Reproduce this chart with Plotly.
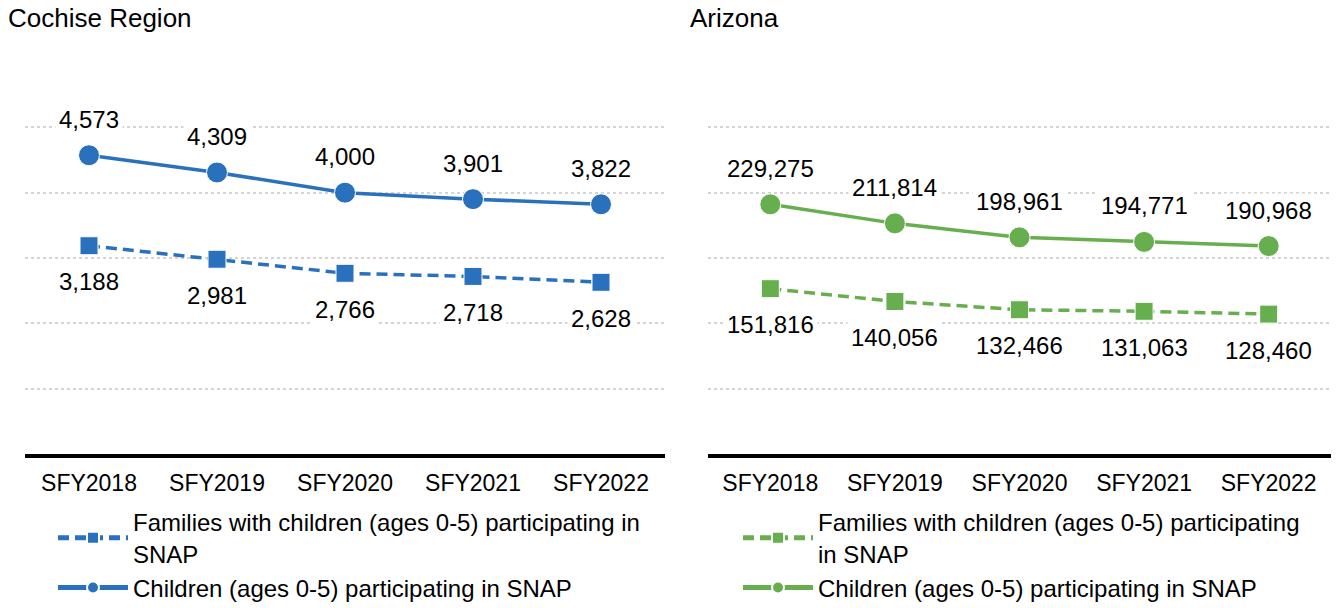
import plotly.graph_objects as go

years = ["SFY2018", "SFY2019", "SFY2020", "SFY2021", "SFY2022"]
cochise_families = [3188, 2981, 2766, 2718, 2628]
cochise_children = [4573, 4309, 4000, 3901, 3822]
az_families = [151816, 140056, 132466, 131063, 128460]
az_children = [229275, 211814, 198961, 194771, 190968]

name_fam_left = "Families with children (ages 0-5) participating in<br>SNAP"
name_fam_right = "Families with children (ages 0-5) participating<br>in SNAP"
name_child = "Children (ages 0-5) participating in SNAP"

BLUE = "#2A71BD"
GREEN = "#67AE4F"
FONT = "Liberation Sans, Arial, sans-serif"

W, H = 1336, 608

fig = go.Figure()

def add_pair(fam, chi, color, xa, ya, legend, fam_name):
    fig.add_trace(go.Scatter(
        x=years, y=fam, name=fam_name, mode="lines+markers",
        line=dict(color=color, width=3.5, dash="11px,6px"),
        marker=dict(symbol="square", size=18, color=color, line=dict(color="white", width=1)),
        xaxis=xa, yaxis=ya, legend=legend, hoverinfo="skip"))
    fig.add_trace(go.Scatter(
        x=years, y=chi, name=name_child, mode="lines+markers",
        line=dict(color=color, width=3.5),
        marker=dict(symbol="circle", size=21, color=color, line=dict(color="white", width=1)),
        xaxis=xa, yaxis=ya, legend=legend, hoverinfo="skip"))
    for xv, v in zip(years, chi):
        fig.add_annotation(x=xv, y=v, xref=xa, yref=ya, text=f"{v:,}", showarrow=False,
                           yshift=36, font=dict(size=24, color="black", family=FONT),
                           bgcolor="white", borderpad=3)
    for xv, v in zip(years, fam):
        fig.add_annotation(x=xv, y=v, xref=xa, yref=ya, text=f"{v:,}", showarrow=False,
                           yshift=-36, font=dict(size=24, color="black", family=FONT),
                           bgcolor="white", borderpad=3)

add_pair(cochise_families, cochise_children, BLUE, "x", "y", "legend", name_fam_left)
add_pair(az_families, az_children, GREEN, "x2", "y2", "legend2", name_fam_right)

ydom = [(H - 454) / H, (H - 62) / H]
xaxis_common = dict(type="category", showline=True, linecolor="black", linewidth=4,
                    ticks="", showgrid=False, zeroline=False, range=[-0.5, 4.5],
                    tickfont=dict(size=23, color="black", family=FONT), ticklabelstandoff=5,
                    fixedrange=True)
yaxis_common = dict(showticklabels=False, ticks="", showgrid=True, gridcolor="#d4d4d4",
                    griddash="dot", gridwidth=1.5, zeroline=False, showline=False, fixedrange=True)

legend_common = dict(y=(H - 500) / H, xanchor="left", yanchor="top",
                     font=dict(size=24, family=FONT, color="black"), bgcolor="rgba(0,0,0,0)",
                     itemsizing="constant", itemwidth=70, tracegroupgap=0, traceorder="normal")

fig.update_layout(
    width=W, height=H,
    margin=dict(l=0, r=0, t=0, b=0, autoexpand=False),
    paper_bgcolor="white", plot_bgcolor="white",
    font=dict(family=FONT, color="black"),
    xaxis=dict(domain=[25 / W, 665 / W], anchor="y", **xaxis_common),
    xaxis2=dict(domain=[708 / W, 1331 / W], anchor="y2", **xaxis_common),
    yaxis=dict(domain=ydom, anchor="x", range=[0, 6000],
               tickvals=[1000, 2000, 3000, 4000, 5000], **yaxis_common),
    yaxis2=dict(domain=ydom, anchor="x2", range=[0, 360000],
                tickvals=[60000, 120000, 180000, 240000, 300000], **yaxis_common),
    legend=dict(x=53 / W, **legend_common),
    legend2=dict(x=738 / W, **legend_common),
    showlegend=True,
)

fig.add_annotation(x=6 / W, y=1 - 18 / H, xref="paper", yref="paper", text="Cochise Region",
                   showarrow=False, xanchor="left", yanchor="middle",
                   font=dict(size=26, family=FONT, color="black"))
fig.add_annotation(x=688 / W, y=1 - 18 / H, xref="paper", yref="paper", text="Arizona",
                   showarrow=False, xanchor="left", yanchor="middle",
                   font=dict(size=26, family=FONT, color="black"))

fig.write_html("out.html", config={"displayModeBar": False},
               post_script="document.body.style.margin='0';document.body.style.overflow='hidden';")
